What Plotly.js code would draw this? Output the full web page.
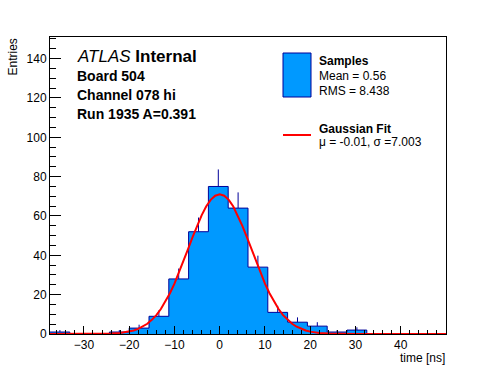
<!DOCTYPE html>
<html>
<head>
<meta charset="utf-8">
<script src="https://cdn.plot.ly/plotly-3.0.1.min.js"></script>
<style>html,body{margin:0;padding:0;background:#fff;}#chart{width:496px;height:372px;}</style>
</head>
<body>
<div id="chart"></div>
<script>
// Histogram bin edges (time [ns]) and counts per bin
const binEdges = [-37.5, -33.125, -28.75, -24.375, -20, -15.625, -11.25, -6.875, -2.5, 1.875, 6.25, 10.625, 15, 19.375, 23.75, 28.125, 32.5, 36.875, 41.25, 45.625, 50];
const counts   = [1, 0, 0, 1, 3, 9, 28, 52, 75, 64, 34, 11, 6, 4, 1, 2, 0, 0, 0, 0];
const countErr = [1, 0, 0, 1, 1.73, 3, 5.29, 7.21, 8.66, 8, 5.83, 3.32, 2.45, 2, 1, 1.41, 0, 0, 0, 0];

// Gaussian fit curve
const fitX = [-37.5, -30, -26, -24, -22, -20, -19, -18, -17, -16, -15, -14, -13, -12, -11, -10, -9, -8, -7, -6, -5, -4, -3, -2, -1, 0, 1, 2, 3, 4, 5, 6, 7, 8, 9, 10, 11, 12, 13, 14, 15, 16, 17, 18, 19, 20, 22, 24, 26, 30, 40, 50];
const fitY = [0, 0, 0.07, 0.2, 0.5, 1.2, 1.8, 2.6, 3.7, 5.2, 7.2, 9.6, 12.7, 16.4, 20.7, 25.6, 31.1, 37.0, 43.1, 49.2, 55.0, 60.3, 64.8, 68.2, 70.3, 71.0, 70.3, 68.2, 64.8, 60.3, 55.0, 49.2, 43.1, 37.0, 31.1, 25.6, 20.7, 16.4, 12.7, 9.6, 7.2, 5.2, 3.7, 2.6, 1.8, 1.2, 0.5, 0.2, 0.07, 0, 0, 0];

const xTickVals = [-30, -20, -10, 0, 10, 20, 30, 40];
const yTickVals = [0, 20, 40, 60, 80, 100, 120, 140];

const textLines = ["Board 504", "Channel 078 hi", "Run 1935 A=0.391"];
const legendSamples = ["Samples", "Mean = 0.56", "RMS = 8.438"];
const legendFit = ["Gaussian Fit", "\u03bc = -0.01, \u03c3 =7.003"];

const FONT = "Liberation Sans, Arial, Helvetica, sans-serif";
const FILL = "#0099ff";
const NAVY = "#000099";

// derived step arrays
const stepY = counts.concat([counts[counts.length - 1]]);
const centers = counts.map((_, i) => (binEdges[i] + binEdges[i + 1]) / 2);

const traces = [
  {
    type: "scatter", mode: "markers", x: centers, y: counts,
    marker: {size: 0.1, color: NAVY, opacity: 0},
    error_y: {type: "data", symmetric: false, array: countErr, arrayminus: counts.map(() => 0),
              color: NAVY, thickness: 1, width: 0},
    hoverinfo: "skip", showlegend: false
  },
  {
    type: "scatter", mode: "lines", x: binEdges, y: stepY,
    line: {shape: "hv", color: NAVY, width: 1},
    fill: "tozeroy", fillcolor: FILL, showlegend: false
  },
  {
    type: "scatter", mode: "lines", x: fitX, y: fitY,
    line: {color: "#ff0000", width: 2}, showlegend: false
  }
];

// paper coords helpers (plot area 50..446 x 37..334)
const px = v => (v - 50) / 396;
const py = v => (334 - v) / 297;

const ann = [];
ann.push({xref: "paper", yref: "paper", x: px(75.5), y: py(56.5), xanchor: "left", yanchor: "middle",
  text: "<i>ATLAS</i> <b>Internal</b>", showarrow: false, borderpad: 0, font: {family: FONT, size: 17, color: "#000"}});
const leftY = [76, 95, 114];
textLines.forEach((t, i) => ann.push({xref: "paper", yref: "paper", x: px(75.5), y: py(leftY[i]), xanchor: "left", yanchor: "middle",
  text: "<b>" + t + "</b>", showarrow: false, borderpad: 0, font: {family: FONT, size: 14, color: "#000"}}));
const sY = [60.5, 76.2, 90.5];
legendSamples.forEach((t, i) => ann.push({xref: "paper", yref: "paper", x: px(317.5), y: py(sY[i]), xanchor: "left", yanchor: "middle",
  text: i === 0 ? "<b>" + t + "</b>" : t, showarrow: false, borderpad: 0, font: {family: FONT, size: 12, color: "#000"}}));
const fY = [128.5, 141.5];
legendFit.forEach((t, i) => ann.push({xref: "paper", yref: "paper", x: px(317.5), y: py(fY[i]), xanchor: "left", yanchor: "middle",
  text: i === 0 ? "<b>" + t + "</b>" : t, showarrow: false, borderpad: 0, font: {family: FONT, size: 12, color: "#000"}}));
ann.push({xref: "paper", yref: "paper", x: px(13), y: py(38), xanchor: "center", yanchor: "top", textangle: -90,
  text: "Entries", showarrow: false, borderpad: 0, font: {family: FONT, size: 12, color: "#000"}});
ann.push({xref: "paper", yref: "paper", x: 1, y: py(357.5), xanchor: "right", yanchor: "middle",
  text: "time [ns]", showarrow: false, borderpad: 0, font: {family: FONT, size: 12, color: "#000"}});

const shapes = [
  {type: "rect", xref: "paper", yref: "paper", x0: px(283), x1: px(311), y0: py(97), y1: py(53),
   fillcolor: FILL, line: {color: NAVY, width: 1}},
  {type: "line", xref: "paper", yref: "paper", x0: px(283), x1: px(311), y0: py(135), y1: py(135),
   line: {color: "#ff0000", width: 2}}
];

const layout = {
  width: 496, height: 372,
  margin: {l: 50, r: 50, t: 37, b: 38, pad: 0},
  paper_bgcolor: "#fff", plot_bgcolor: "#fff",
  showlegend: false,
  font: {family: FONT, size: 12, color: "#000"},
  xaxis: {range: [-37.5, 50], tickvals: xTickVals, ticks: "inside", ticklen: 8, tickcolor: "#000", tickwidth: 1,
          minor: {dtick: 2, tick0: 0, ticks: "inside", ticklen: 4, tickcolor: "#000", tickwidth: 1},
          showline: true, linecolor: "#000", linewidth: 1, mirror: true, showgrid: false, zeroline: false,
          tickfont: {family: FONT, size: 12, color: "#000"}},
  yaxis: {range: [0, 151], tickvals: yTickVals, ticks: "inside", ticklen: 11, tickcolor: "#000", tickwidth: 1,
          minor: {dtick: 5, tick0: 0, ticks: "inside", ticklen: 6, tickcolor: "#000", tickwidth: 1},
          showline: true, linecolor: "#000", linewidth: 1, mirror: true, showgrid: false, zeroline: false,
          tickfont: {family: FONT, size: 12, color: "#000"}},
  annotations: ann,
  shapes: shapes
};

Plotly.newPlot("chart", traces, layout, {displayModeBar: false, staticPlot: true});
</script>
</body>
</html>
